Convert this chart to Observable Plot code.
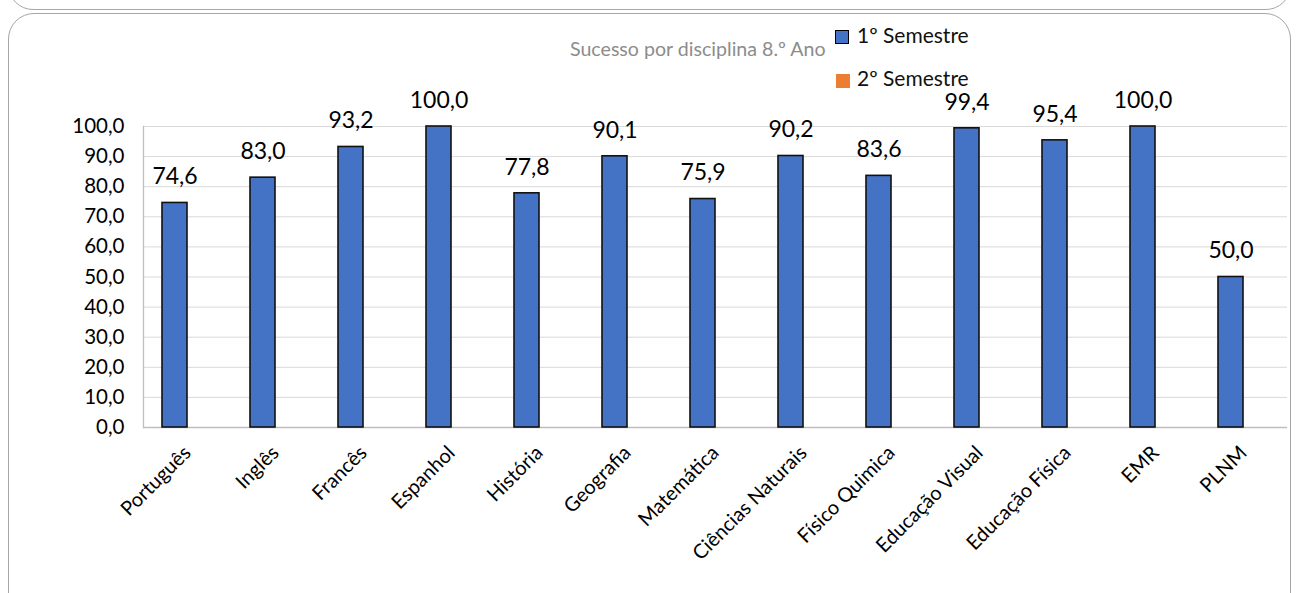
<!DOCTYPE html>
<html>
<head>
<meta charset="utf-8">
<script src="https://cdn.jsdelivr.net/npm/d3@7"></script>
<script src="https://cdn.jsdelivr.net/npm/@observablehq/plot@0.6"></script>
<style>
  body { margin: 0; background: #fff; font-family: Lato, "Noto Sans", sans-serif; }
  #wrap { position: relative; width: 1298px; height: 593px; overflow: hidden; }
  .box { position: absolute; border: 1.3px solid #a6a6a6; border-radius: 26px; box-sizing: border-box; }
  #title { position: absolute; left: 570px; top: 37px; font-size: 19.6px; color: #8c8c8c; line-height: 24px; white-space: nowrap; }
  .leg { position: absolute; font-size: 21px; color: #111; line-height: 18px; white-space: nowrap; }
  .sw { position: absolute; width: 14px; height: 14px; box-sizing: border-box; }
  #chart { position: absolute; left: 0; top: 0; }
</style>
</head>
<body>
<div id="wrap">
  <div class="box" style="left:8px; top:-40px; width:1283px; height:50px;"></div>
  <div class="box" style="left:8px; top:13px; width:1283px; height:640px;"></div>
  <div id="chart"></div>
  <div id="title"></div>
  <div id="sw1" class="sw" style="left:835px; top:30px;"></div>
  <div id="leg1" class="leg" style="left:857px; top:26px;"></div>
  <div id="sw2" class="sw" style="left:836px; top:74px;"></div>
  <div id="leg2" class="leg" style="left:857px; top:69px;"></div>
</div>
<script>
const title = "Sucesso por disciplina 8.º Ano";
const subjects = ["Português", "Inglês", "Francês", "Espanhol", "História", "Geografia", "Matemática", "Ciências Naturais", "Físico Quimica", "Educação Visual", "Educação Física", "EMR", "PLNM"];
const semestres = ["1º Semestre", "2º Semestre"];
const sem1 = [74.6, 83.0, 93.2, 100.0, 77.8, 90.1, 75.9, 90.2, 83.6, 99.4, 95.4, 100.0, 50.0];
const sem2 = [null, null, null, null, null, null, null, null, null, null, null, null, null];
const colors = ["#4472C4", "#ED7D31"];
const yTicks = [0, 10, 20, 30, 40, 50, 60, 70, 80, 90, 100];

const data = subjects.flatMap((s, i) => [
  {subject: s, semestre: semestres[0], value: sem1[i]},
  {subject: s, semestre: semestres[1], value: sem2[i]}
]);
const fmt = v => v == null ? null : v.toFixed(1).replace(".", ",");

document.getElementById("title").textContent = title;
document.getElementById("leg1").textContent = semestres[0];
document.getElementById("leg2").textContent = semestres[1];
const sw1 = document.getElementById("sw1");
sw1.style.background = colors[0]; sw1.style.border = "1.8px solid #000";
document.getElementById("sw2").style.background = colors[1];

const chart = Plot.plot({
  width: 1298,
  height: 593,
  marginTop: 126,
  marginLeft: 140,
  marginRight: 8,
  marginBottom: 166,
  style: {fontFamily: "Lato, 'Noto Sans', sans-serif", color: "#000", background: "transparent", overflow: "visible"},
  fx: {domain: subjects, padding: 0, label: null},
  x: {domain: semestres, paddingInner: 0, paddingOuter: 0.7, axis: null},
  y: {domain: [0, 100], label: null},
  color: {domain: semestres, range: colors},
  marks: [
    Plot.gridY(yTicks, {stroke: "#d9d9d9", strokeOpacity: 1, strokeWidth: 1}),
    Plot.ruleY([0], {stroke: "#bfbfbf", strokeWidth: 1.3}),
    Plot.frame({anchor: "left", stroke: "#bfbfbf", strokeWidth: 1.3, facet: "super"}),
    Plot.barY(data, {fx: "subject", x: "semestre", y: "value", fill: "semestre", stroke: "#111", strokeWidth: 1.6}),
    Plot.text(data, {fx: "subject", x: "semestre", y: "value", text: d => fmt(d.value), dy: -26, fontSize: 23, fill: "#000"}),
    Plot.axisY(yTicks, {tickSize: 0, tickPadding: 19, tickFormat: fmt, fontSize: 20.5, label: null, fill: "#000"}),
    Plot.axisFx({anchor: "bottom", tickRotate: -45, tickSize: 0, tickPadding: 22, fontSize: 20, label: null, fill: "#000"})
  ]
});
document.getElementById("chart").appendChild(chart);
</script>
</body>
</html>
